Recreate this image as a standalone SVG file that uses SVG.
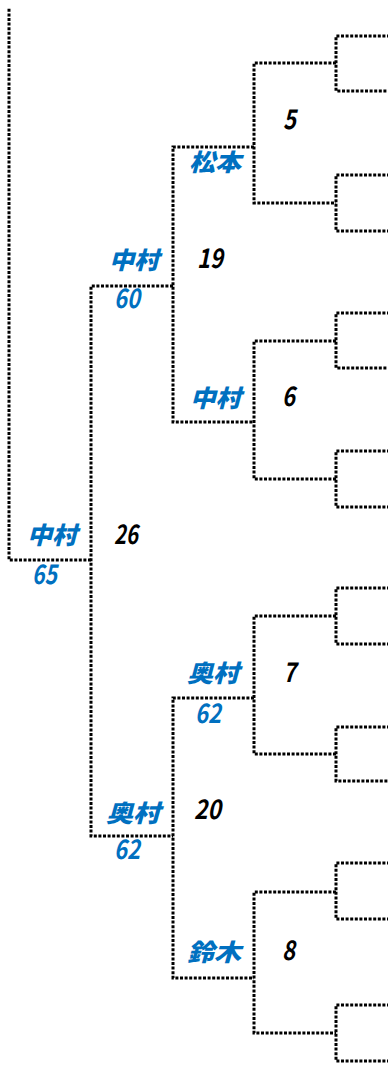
<svg xmlns="http://www.w3.org/2000/svg" width="388" height="1065" viewBox="0 0 388 1065">
<style>
.ln{fill:none;stroke:#000;stroke-width:3;stroke-dasharray:3 1.6}
.nm{font-family:"Noto Sans CJK JP","Noto Sans",sans-serif;font-weight:900;font-style:italic;font-size:24px;fill:#0070C0}
.sc{font-family:"Noto Sans CJK JP","Noto Sans",sans-serif;font-weight:700;font-style:italic;font-size:27px;fill:#0070C0}
.no{font-family:"Noto Sans CJK JP","Noto Sans",sans-serif;font-weight:700;font-style:italic;font-size:27px;fill:#000}
</style>
<rect width="388" height="1065" fill="#fff"/>
<g id="connectors">
<path class="ln" d="M390,36 H336 V91 H390"/>
<path class="ln" d="M390,175 H336 V231 H390"/>
<path class="ln" d="M390,313 H336 V368 H390"/>
<path class="ln" d="M390,451 H336 V507 H390"/>
<path class="ln" d="M390,588 H336 V644 H390"/>
<path class="ln" d="M390,727 H336 V781 H390"/>
<path class="ln" d="M390,863 H336 V919 H390"/>
<path class="ln" d="M390,1005 H336 V1061 H390"/>
<path class="ln" d="M336,63 H254 V203 H336"/>
<path class="ln" d="M336,341 H254 V479 H336"/>
<path class="ln" d="M336,616 H254 V754 H336"/>
<path class="ln" d="M336,892 H254 V1033 H336"/>
<path class="ln" d="M254,147 H173 V422 H254"/>
<path class="ln" d="M254,698 H173 V978 H254"/>
<path class="ln" d="M173,286 H91 V836 H173"/>
<path class="ln" d="M91,560 H9 V8"/>
</g>
<g id="m5"><text class="nm" x="189" y="171" textLength="52" lengthAdjust="spacingAndGlyphs">松本</text><text class="no" x="283" y="129" textLength="13" lengthAdjust="spacingAndGlyphs">5</text></g>
<g id="m6"><text class="nm" x="190" y="407" textLength="51" lengthAdjust="spacingAndGlyphs">中村</text><text class="no" x="282" y="406" textLength="13" lengthAdjust="spacingAndGlyphs">6</text></g>
<g id="m7"><text class="nm" x="187" y="682" textLength="52" lengthAdjust="spacingAndGlyphs">奥村</text><text class="no" x="283" y="682" textLength="13" lengthAdjust="spacingAndGlyphs">7</text><text class="sc" x="195" y="723" textLength="26" lengthAdjust="spacingAndGlyphs">62</text></g>
<g id="m8"><text class="nm" x="187" y="961" textLength="54" lengthAdjust="spacingAndGlyphs">鈴木</text><text class="no" x="282" y="960" textLength="13" lengthAdjust="spacingAndGlyphs">8</text></g>
<g id="m19"><text class="nm" x="109" y="269" textLength="50" lengthAdjust="spacingAndGlyphs">中村</text><text class="sc" x="114" y="308" textLength="26" lengthAdjust="spacingAndGlyphs">60</text><text class="no" x="197" y="268" textLength="26" lengthAdjust="spacingAndGlyphs">19</text></g>
<g id="m20"><text class="nm" x="106" y="822" textLength="54" lengthAdjust="spacingAndGlyphs">奥村</text><text class="sc" x="114" y="859" textLength="26" lengthAdjust="spacingAndGlyphs">62</text><text class="no" x="194" y="819" textLength="27" lengthAdjust="spacingAndGlyphs">20</text></g>
<g id="m26"><text class="nm" x="27" y="544" textLength="50" lengthAdjust="spacingAndGlyphs">中村</text><text class="sc" x="32" y="584" textLength="25" lengthAdjust="spacingAndGlyphs">65</text><text class="no" x="114" y="544" textLength="24" lengthAdjust="spacingAndGlyphs">26</text></g>
</svg>
